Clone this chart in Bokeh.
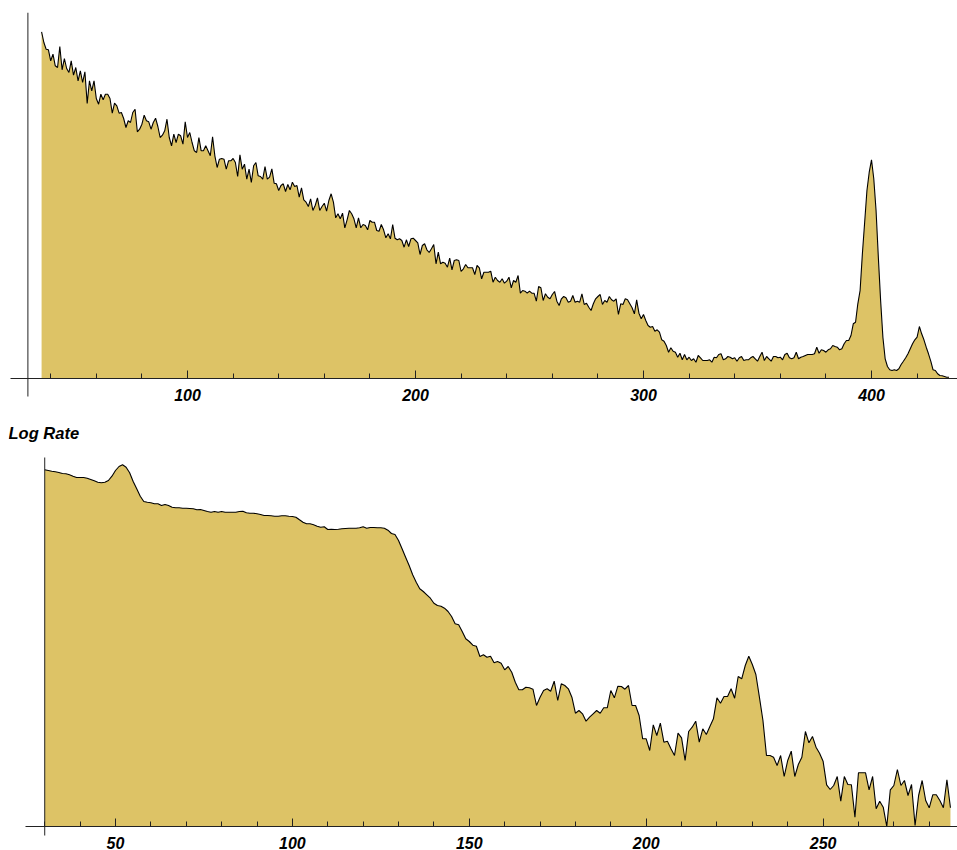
from bokeh.plotting import figure
from bokeh.models import LinearAxis, SingleIntervalTicker, Range1d, Label
from bokeh.embed import file_html
from bokeh.resources import INLINE

# ---------------- data ----------------
# top panel: counts per channel (channels 36..434)
top_channels = list(range(36, 435))
top_counts = [
    346.7, 336, 329.3, 328.7, 317.7, 324.3, 312.7, 311, 332, 308.7,
    320, 310, 306, 317.7, 303.3, 311, 297.7, 307.7, 296, 306.7,
    275, 297.7, 287.7, 297.7, 280, 274.3, 284.3, 278.7, 284.3, 284.3,
    280, 265.3, 275.3, 272.7, 265.3, 266, 260, 251, 257.7, 256,
    266, 269.3, 246.7, 249.3, 254.3, 263.3, 257.7, 256.7, 249.3, 256,
    260.3, 252, 241, 243.3, 247.7, 259.3, 241, 232.7, 244.3, 236,
    244.3, 242.7, 234.3, 256.7, 241, 246, 236, 227.7, 226, 241,
    227.7, 227.7, 232.7, 227.7, 222.7, 241.7, 222.7, 211, 219.3, 220,
    219.3, 209.3, 217.7, 217.7, 220, 216, 202, 223.7, 209.3, 214.3,
    199.3, 209.3, 196, 212.7, 216, 202.7, 202, 199.3, 212, 199.3,
    201.3, 209.7, 195.3, 194.7, 188, 193, 194.7, 187, 194, 188.7,
    196.3, 192, 193, 181.3, 190.7, 178.7, 176.3, 172, 179.7, 168,
    173, 180.7, 168, 172, 175.3, 167.3, 178, 184.7, 176.3, 160.7,
    164.7, 159.7, 165.3, 150.7, 158.7, 168, 164.7, 159.7, 150.7, 160.7,
    150.7, 154, 153, 148.7, 158, 156.3, 156.3, 148, 147.3, 154,
    148.7, 140.7, 144.7, 139.7, 154, 140.3, 138.7, 139.7, 138, 131.3,
    138.7, 132, 139.7, 140.3, 138, 135.7, 124, 133, 134.7, 128.7,
    126, 129.7, 134, 114.7, 126.3, 114.7, 116.3, 115.3, 111.3, 120.3,
    108.7, 118, 118.7, 118, 107, 109.7, 114, 110.7, 110.7, 110.7,
    104, 113, 110.7, 99.7, 106.3, 106.3, 106.3, 107.3, 96.3, 101.3,
    98, 96.3, 99.7, 95.3, 97.3, 101.3, 90.7, 98, 96.3, 103,
    85.3, 88, 87.3, 85.3, 87.3, 85.3, 85.3, 77.3, 92, 90.7,
    78, 84.7, 81.3, 79.7, 84, 87, 77.3, 73, 79.7, 82,
    80.7, 76.3, 77.3, 83, 76.3, 77.3, 76.3, 84.7, 74, 75.3,
    71.3, 68, 74.7, 79.7, 82, 84, 74, 78, 76.3, 82,
    78.7, 77.3, 79.7, 64, 74.7, 74, 79.7, 78.7, 74.7, 70.7,
    64.7, 78.7, 65.3, 59.7, 64, 58, 53, 51.3, 52, 47.3,
    48.7, 46.3, 38.7, 37.3, 33, 26.3, 30.7, 27.3, 26.3, 21.3,
    25.3, 18.7, 24, 18.7, 21.3, 18, 19.7, 16.3, 23, 20.7,
    18, 18, 18, 18.7, 16.3, 21.3, 20.7, 24,
    24.7, 18.7, 19.7, 22, 21.3, 19.7, 20.7, 17.3, 20.7, 22,
    18, 18.7, 18.7, 20.7, 22, 19.7, 17.3, 22, 26.3, 18,
    22, 19.7, 17.3, 22, 22, 20.7, 21.3, 18.7, 24, 25.3,
    20.7, 19.7, 20.7, 26.3, 19.7, 21.3, 22, 23, 24, 24,
    24, 24.7, 31.3, 25.3, 28.7, 28, 26.3, 28.7, 29.7, 33,
    32, 31.3, 28.7, 29.7, 34.7, 38, 38, 43, 54.7, 56.3,
    74.7, 88, 124.7, 156.3, 188, 206.3, 218.7, 199.7, 168, 121.3,
    78, 41.3, 19.7, 12, 8.7, 8, 8.7, 8, 9.7, 14,
    17.3, 20.7, 24.7, 29.7, 34.7, 38.7, 41.3, 52, 44.7, 38.7,
    31.3, 24.7, 17.3, 8.7, 8, 4.7, 3, 2.7, 2, 1.3,
    1.3,
]

# bottom panel: log rate per channel (channels 30..286)
log_channels = list(range(30, 287))
log_rate = [
    356.7, 356, 355.3, 354.7, 354, 353, 352.7, 351.7, 350.3, 349,
    349, 349, 348.3, 347, 345.7, 344.3, 343.7, 344.3, 346, 350.3,
    356, 360, 361.7, 359.3, 353.7, 345, 337.7, 330.3, 325, 324.3,
    323.7, 322.7, 322.7, 321, 322, 321, 319.3, 318.7, 318.7, 318.3,
    318.3, 318, 317.7, 316.7, 317, 316, 315, 314.3, 315, 314.3,
    315, 314.3, 314.3, 314.3, 314.3, 315, 315.3, 313.7, 313.3, 313.3,
    312.7, 312, 311, 311, 310.7, 310.3, 310.3, 310.7, 310.7, 310.3,
    310, 309.3, 306.7, 304.3, 302.7, 302.7, 301.7, 300.3, 299.3, 299.7,
    297, 297.3, 297, 297.3, 297.7, 298, 298.3, 298.3, 298.3, 298.7,
    299.7, 298.3, 299, 299, 298.7, 298.7, 298.3, 296.3, 293, 292,
    286, 277.7, 269.3, 261, 251.7, 244.3, 237.7, 235, 231.7, 228.3,
    223.3, 221, 220.3, 218.3, 215, 210, 202.7, 201.7, 195, 187.7,
    185, 181.3, 180.3, 170, 171.7, 169.3, 170.3, 163.7, 165, 163.3,
    156.7, 160, 154.3, 144.3, 136.7, 136.7, 139.3, 138.7, 137.3, 121,
    129.3, 136, 137.7, 135.3, 145.3, 126, 142.7, 141, 137.7, 129.3,
    113.3, 116, 112.7, 105.3, 109.3, 112.7, 116, 113.3, 118.7, 118.7,
    136, 128.7, 140.3, 140, 137.3, 141, 121, 121, 111, 87.7,
    87.7, 76, 101.7, 91, 103.3, 84.3, 85.3, 77.7, 71, 93.3,
    88.7, 66, 95, 99.3, 105.3, 84.3, 97.7, 92, 100, 107.7,
    128.7, 123.3, 130, 130, 137.7, 128.3, 150, 147.7, 161, 170.3,
    162, 152, 129.3, 106, 71, 71, 69.3, 61, 71, 50,
    66, 75.3, 50, 62, 69.3, 95, 83.7, 90, 79.3, 73.3,
    65.3, 41.7, 37, 41, 50, 25.3, 50, 42, 41.7, 9.3,
    53.7, 53.7, 53.7, 36.7, 50, 17.7, 25.3, 19.3, 0, 36.7,
    41, 57, 41, 46, 31, 42, 1, 31, 46, 26,
    18.7, 31.7, 31.7, 26, 18.7, 46.7, 18.7,
]

top_tick_interval = 100
log_tick_interval = 50
y_axis_channel = 30
log_title = "Log Rate"

# ---------------- style ----------------
FILL = "#DDC366"
AXIS = "#222222"
FONT = "Liberation Sans"


def style_axis(ax, standoff):
    ax.axis_line_color = AXIS
    ax.axis_line_width = 1
    ax.major_tick_line_color = AXIS
    ax.minor_tick_line_color = AXIS
    ax.major_tick_in = 8
    ax.major_tick_out = 0
    ax.minor_tick_in = 5
    ax.minor_tick_out = 0
    ax.major_label_standoff = standoff
    ax.major_label_text_font = FONT
    ax.major_label_text_font_size = "16px"
    ax.major_label_text_font_style = "bold italic"
    ax.major_label_text_color = "black"


# One canvas holding both panels, each with its own pair of ranges.
# Frame spans x 8..957 and y 12..850 of the canvas.
p = figure(frame_width=949, frame_height=838,
           x_range=Range1d(21.49, 437.72), y_range=Range1d(-472, 366),
           x_axis_type=None, y_axis_type=None,
           output_backend="svg", toolbar_location=None,
           min_border_left=8, min_border_right=0,
           min_border_top=12, min_border_bottom=0)
p.extra_x_ranges = {"bx": Range1d(19.76, 287.99)}
p.extra_y_ranges = {"by": Range1d(-24, 814)}
p.outline_line_color = None
p.background_fill_color = "white"

# top panel
p.varea(x=top_channels, y1=0, y2=top_counts, fill_color=FILL)
p.line(top_channels, top_counts, line_color="black", line_width=1.1)
p.segment(x0=[y_axis_channel], y0=[-18], x1=[y_axis_channel], y1=[366],
          line_color=AXIS, line_width=1)
xa1 = LinearAxis(ticker=SingleIntervalTicker(interval=top_tick_interval, num_minor_ticks=5),
                 fixed_location=0, bounds=(22.37, 437.72))
style_axis(xa1, 10)
p.add_layout(xa1, "below")

# bottom panel
p.varea(x=log_channels, y1=0, y2=log_rate, fill_color=FILL,
        x_range_name="bx", y_range_name="by")
p.line(log_channels, log_rate, line_color="black", line_width=1.1,
       x_range_name="bx", y_range_name="by")
p.segment(x0=[y_axis_channel], y0=[-9], x1=[y_axis_channel], y1=[369],
          line_color=AXIS, line_width=1, x_range_name="bx", y_range_name="by")
xa2 = LinearAxis(ticker=SingleIntervalTicker(interval=log_tick_interval, num_minor_ticks=5),
                 fixed_location=0, bounds=(24.56, 287.99),
                 x_range_name="bx", y_range_name="by")
style_axis(xa2, 10)
p.add_layout(xa2, "below")

p.add_layout(Label(x=19.76, y=394, text=log_title, x_range_name="bx", y_range_name="by",
                   text_align="left", text_baseline="middle",
                   text_font=FONT, text_font_size="16.5px", text_font_style="bold italic",
                   text_color="black"))

open("out.html", "w").write(file_html(p, INLINE))
